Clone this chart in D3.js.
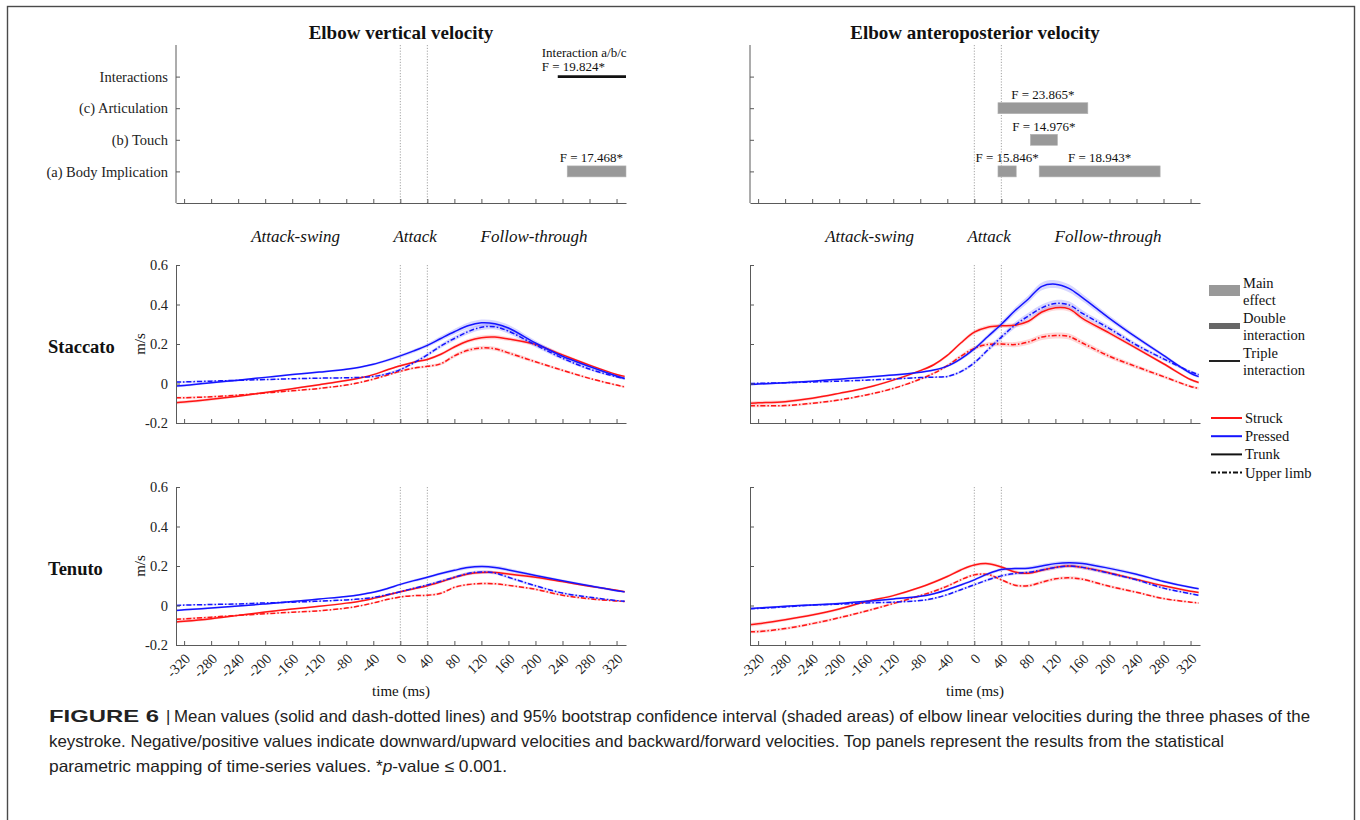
<!DOCTYPE html>
<html>
<head>
<meta charset="utf-8">
<script src="https://cdn.jsdelivr.net/npm/d3@7"></script>
<style>
  body { margin: 0; background: #fff; }
  svg { display: block; }
</style>
</head>
<body>
<svg id="fig" width="1360" height="820"></svg>
<script>
// ---------- time base (ms, keystroke onset = 0) ----------
const timeMs = [-332,-320,-280,-240,-200,-160,-120,-80,-60,-40,-20,0,20,40,60,80,100,120,140,160,200,240,280,320,332];
const xTicks = [-320,-280,-240,-200,-160,-120,-80,-40,0,40,80,120,160,200,240,280,320];
const yTicks = [-0.2, 0, 0.2, 0.4, 0.6];
const phaseNames = ["Attack-swing", "Attack", "Follow-through"];
const phaseLabelAt = [-155, 22, 198];
const phaseBounds = [0, 40];

// ---------- elbow vertical velocity, staccato (m/s) ----------
const vsStruckTrunk  = [-0.097,-0.094,-0.080,-0.064,-0.046,-0.026,-0.006,0.015,0.028,0.045,0.068,0.090,0.108,0.122,0.148,0.185,0.215,0.232,0.235,0.225,0.198,0.145,0.093,0.046,0.036];
const vsStruckLimb   = [-0.072,-0.072,-0.067,-0.059,-0.048,-0.037,-0.025,-0.008,0.005,0.022,0.042,0.062,0.078,0.087,0.100,0.140,0.168,0.180,0.176,0.155,0.110,0.067,0.026,-0.008,-0.017];
const vsPressedTrunk = [-0.013,-0.010,0.004,0.017,0.031,0.045,0.058,0.072,0.082,0.097,0.117,0.140,0.165,0.193,0.228,0.262,0.292,0.307,0.302,0.281,0.205,0.138,0.086,0.038,0.025];
const vsPressedLimb  = [0.007,0.008,0.012,0.016,0.020,0.024,0.027,0.029,0.031,0.036,0.048,0.070,0.105,0.145,0.190,0.228,0.262,0.285,0.287,0.265,0.195,0.128,0.073,0.034,0.025];

// ---------- elbow vertical velocity, tenuto ----------
const vtStruckTrunk  = [-0.083,-0.080,-0.067,-0.050,-0.033,-0.018,-0.004,0.012,0.022,0.036,0.052,0.070,0.085,0.100,0.120,0.142,0.160,0.167,0.167,0.160,0.143,0.121,0.098,0.077,0.070];
const vtStruckLimb   = [-0.070,-0.068,-0.059,-0.050,-0.042,-0.034,-0.027,-0.013,-0.002,0.013,0.030,0.043,0.050,0.052,0.062,0.092,0.106,0.111,0.110,0.102,0.082,0.052,0.034,0.023,0.020];
const vtPressedTrunk = [-0.025,-0.022,-0.013,-0.003,0.008,0.020,0.033,0.046,0.055,0.067,0.085,0.107,0.126,0.143,0.162,0.178,0.192,0.197,0.193,0.180,0.152,0.125,0.100,0.075,0.069];
const vtPressedLimb  = [0.000,0.002,0.005,0.008,0.013,0.017,0.022,0.028,0.033,0.041,0.054,0.070,0.087,0.104,0.123,0.143,0.162,0.170,0.165,0.143,0.100,0.063,0.042,0.025,0.021];

// ---------- elbow anteroposterior velocity, staccato ----------
const asStruckTrunk  = [-0.100,-0.098,-0.092,-0.075,-0.050,-0.022,0.017,0.065,0.095,0.142,0.205,0.260,0.285,0.292,0.295,0.315,0.362,0.383,0.378,0.330,0.255,0.178,0.100,0.020,0.005];
const asStruckLimb   = [-0.113,-0.113,-0.112,-0.100,-0.083,-0.058,-0.025,0.022,0.052,0.090,0.138,0.178,0.198,0.200,0.197,0.210,0.235,0.243,0.238,0.205,0.138,0.085,0.035,-0.015,-0.025];
const asPressedTrunk = [-0.005,-0.003,0.004,0.012,0.022,0.032,0.043,0.057,0.068,0.088,0.125,0.175,0.238,0.300,0.368,0.428,0.492,0.503,0.482,0.435,0.330,0.233,0.142,0.052,0.035];
const asPressedLimb  = [0.000,0.001,0.004,0.008,0.012,0.017,0.023,0.030,0.032,0.036,0.060,0.105,0.170,0.235,0.295,0.342,0.383,0.405,0.398,0.355,0.278,0.195,0.125,0.060,0.045];

// ---------- elbow anteroposterior velocity, tenuto ----------
const atStruckTrunk  = [-0.098,-0.093,-0.072,-0.048,-0.018,0.020,0.050,0.092,0.118,0.147,0.180,0.205,0.212,0.195,0.170,0.163,0.178,0.193,0.200,0.193,0.165,0.132,0.100,0.072,0.066];
const atStruckLimb   = [-0.133,-0.132,-0.117,-0.092,-0.062,-0.028,0.010,0.050,0.072,0.098,0.130,0.155,0.157,0.130,0.103,0.100,0.118,0.135,0.140,0.133,0.097,0.067,0.035,0.017,0.013];
const atPressedTrunk = [-0.015,-0.013,-0.004,0.003,0.010,0.021,0.033,0.047,0.060,0.080,0.104,0.130,0.160,0.182,0.187,0.189,0.200,0.212,0.217,0.213,0.188,0.158,0.122,0.092,0.085];
const atPressedLimb  = [-0.017,-0.015,-0.007,0.002,0.007,0.013,0.017,0.025,0.036,0.055,0.080,0.105,0.130,0.150,0.162,0.168,0.180,0.193,0.200,0.193,0.163,0.130,0.088,0.060,0.052];

// ---------- 95% bootstrap CI half-widths (m/s) ----------
const vsStruckTrunkCI  = [.008,.008,.007,.006,.005,.005,.005,.005,.005,.005,.005,.006,.006,.007,.008,.009,.010,.011,.011,.010,.009,.008,.006,.005,.005];
const vsStruckLimbCI   = [.006,.006,.005,.005,.004,.004,.004,.004,.004,.005,.005,.006,.006,.007,.008,.009,.010,.010,.010,.009,.008,.007,.006,.005,.005];
const vsPressedTrunkCI = [.006,.006,.005,.005,.005,.005,.005,.005,.005,.006,.007,.008,.009,.010,.012,.014,.016,.017,.017,.016,.013,.010,.008,.007,.007];
const vsPressedLimbCI  = [.005,.005,.004,.004,.004,.004,.004,.004,.004,.005,.006,.007,.008,.009,.010,.012,.013,.014,.014,.013,.011,.009,.007,.006,.006];
const vtStruckTrunkCI  = [.007,.007,.006,.005,.005,.004,.004,.004,.004,.004,.005,.005,.006,.006,.007,.007,.008,.008,.008,.008,.007,.006,.005,.005,.005];
const vtStruckLimbCI   = [.006,.006,.005,.005,.004,.004,.004,.004,.004,.004,.004,.005,.005,.005,.006,.006,.006,.006,.006,.006,.006,.005,.005,.004,.004];
const vtPressedTrunkCI = [.005,.005,.005,.004,.004,.004,.004,.004,.005,.005,.006,.006,.007,.007,.008,.008,.009,.009,.009,.009,.008,.007,.006,.006,.006];
const vtPressedLimbCI  = [.004,.004,.004,.004,.004,.004,.004,.004,.004,.004,.005,.005,.006,.006,.007,.007,.008,.008,.008,.007,.006,.005,.005,.004,.004];
const asStruckTrunkCI  = [.009,.009,.008,.007,.006,.006,.006,.006,.007,.008,.009,.010,.010,.010,.011,.012,.013,.014,.014,.013,.011,.009,.008,.007,.007];
const asStruckLimbCI   = [.007,.007,.006,.006,.005,.005,.005,.006,.007,.008,.009,.010,.011,.012,.013,.014,.015,.015,.015,.014,.012,.010,.008,.007,.007];
const asPressedTrunkCI = [.005,.005,.005,.005,.005,.005,.005,.005,.005,.006,.008,.010,.012,.014,.016,.018,.020,.020,.020,.018,.014,.011,.009,.008,.008];
const asPressedLimbCI  = [.004,.004,.004,.004,.004,.004,.004,.004,.004,.005,.007,.009,.011,.013,.015,.016,.017,.018,.018,.016,.013,.010,.008,.007,.007];
const atStruckTrunkCI  = [.009,.009,.008,.007,.007,.006,.006,.006,.007,.007,.008,.008,.008,.008,.008,.008,.009,.009,.009,.009,.008,.007,.006,.006,.006];
const atStruckLimbCI   = [.008,.008,.007,.007,.006,.006,.006,.006,.006,.007,.007,.007,.007,.007,.007,.007,.008,.008,.008,.008,.007,.006,.006,.005,.005];
const atPressedTrunkCI = [.005,.005,.005,.005,.005,.005,.005,.005,.005,.006,.006,.007,.007,.008,.008,.009,.010,.010,.010,.010,.009,.008,.007,.006,.006];
const atPressedLimbCI  = [.004,.004,.004,.004,.004,.004,.004,.004,.005,.005,.006,.006,.007,.007,.007,.008,.008,.009,.009,.009,.008,.007,.006,.005,.005];

// ---------- SPM results ----------
const spmFactors = ["(a) Body Implication", "(b) Touch", "(c) Articulation", "Interactions"];
const vertMainEffects = [
  { factor: "(a) Body Implication", start: 247, end: 334, F: "17.468" }
];
const vertInteractions = [
  { factor: "Interactions", start: 233, end: 334, F: "19.824", name: "Interaction a/b/c" }
];
const apMainEffects = [
  { factor: "(c) Articulation", start: 35, end: 168, F: "23.865" },
  { factor: "(b) Touch", start: 83, end: 123, F: "14.976" },
  { factor: "(a) Body Implication", start: 35, end: 62, F: "15.846" },
  { factor: "(a) Body Implication", start: 96, end: 275, F: "18.943" }
];

const legendEffects = ["Main|effect", "Double|interaction", "Triple|interaction"];
const legendSeries = ["Struck", "Pressed", "Trunk", "Upper limb"];

const captionLines = [
  "Mean values (solid and dash-dotted lines) and 95% bootstrap confidence interval (shaded areas) of elbow linear velocities during the three phases of the",
  "keystroke. Negative/positive values indicate downward/upward velocities and backward/forward velocities. Top panels represent the results from the statistical"
];

// ---------- drawing ----------
const SERIF = "'Liberation Serif','Times New Roman',Times,serif";
const SANS = "'Liberation Sans',Arial,Helvetica,sans-serif";
const RED = "#ff1414", BLUE = "#1414ff";
const AXIS = "#5a5a5a";
const DASHDOT = "5,2,1.5,2";

const svg = d3.select("#fig");

// outer frame
svg.append("rect").attr("x", 7.5).attr("y", 6.5).attr("width", 1347).attr("height", 900)
  .attr("fill", "none").attr("stroke", "#4a4a4a").attr("stroke-width", 1.4);

const colLeft = [176, 750];
const panelW = 450;
const xDomain = [-332, 334];
const spmBox = { top: 45, bottom: 203 };
const rowBoxes = [{ top: 265, bottom: 423, name: "Staccato" }, { top: 487, bottom: 645, name: "Tenuto" }];
const titles = ["Elbow vertical velocity", "Elbow anteroposterior velocity"];

const panelSeries = [
  [
    { st: vsStruckTrunk, sl: vsStruckLimb, pt: vsPressedTrunk, pl: vsPressedLimb,
      stc: vsStruckTrunkCI, slc: vsStruckLimbCI, ptc: vsPressedTrunkCI, plc: vsPressedLimbCI },
    { st: vtStruckTrunk, sl: vtStruckLimb, pt: vtPressedTrunk, pl: vtPressedLimb,
      stc: vtStruckTrunkCI, slc: vtStruckLimbCI, ptc: vtPressedTrunkCI, plc: vtPressedLimbCI }
  ],
  [
    { st: asStruckTrunk, sl: asStruckLimb, pt: asPressedTrunk, pl: asPressedLimb,
      stc: asStruckTrunkCI, slc: asStruckLimbCI, ptc: asPressedTrunkCI, plc: asPressedLimbCI },
    { st: atStruckTrunk, sl: atStruckLimb, pt: atPressedTrunk, pl: atPressedLimb,
      stc: atStruckTrunkCI, slc: atStruckLimbCI, ptc: atPressedTrunkCI, plc: atPressedLimbCI }
  ]
];

function styleAxis(g) {
  g.select(".domain").attr("stroke", AXIS).attr("stroke-width", 1);
  g.selectAll(".tick line").attr("stroke", AXIS).attr("stroke-width", 1);
  g.selectAll(".tick text").attr("fill", "#222").style("font-family", SERIF).style("font-size", "14.5px");
}

function dottedMarkers(g, x, top, bottom) {
  phaseBounds.forEach(t => {
    g.append("line").attr("x1", x(t)).attr("x2", x(t)).attr("y1", top).attr("y2", bottom)
      .attr("stroke", "#9a9a9a").attr("stroke-width", 0.9).attr("stroke-dasharray", "1.2,1.6");
  });
}

for (let c = 0; c < 2; c++) {
  const x = d3.scaleLinear().domain(xDomain).range([colLeft[c], colLeft[c] + panelW]);
  const g = svg.append("g");

  // column title
  g.append("text").attr("x", colLeft[c] + panelW / 2).attr("y", 39).attr("text-anchor", "middle")
    .style("font-family", SERIF).style("font-weight", "bold").style("font-size", "19px")
    .attr("fill", "#111").text(titles[c]);

  // ---- SPM panel ----
  const yCat = d3.scalePoint().domain(spmFactors).range([spmBox.bottom, spmBox.top]).padding(1);
  dottedMarkers(g, x, spmBox.top, spmBox.bottom);

  const xa = g.append("g").attr("transform", `translate(0,${spmBox.bottom})`)
    .call(d3.axisBottom(x).tickValues(xTicks).tickSizeInner(-4).tickSizeOuter(0).tickFormat(""));
  styleAxis(xa);
  const ya = g.append("g").attr("transform", `translate(${colLeft[c]},0)`)
    .call(d3.axisLeft(yCat).tickSizeInner(-4).tickSizeOuter(0).tickPadding(8)
      .tickFormat(c === 0 ? (d => d) : ""));
  styleAxis(ya);
  ya.select(".domain").attr("d", `M0,${spmBox.top}V${spmBox.bottom}`);

  const mains = c === 0 ? vertMainEffects : apMainEffects;
  const barH = 11;
  mains.forEach(m => {
    const yc = yCat(m.factor);
    g.append("rect").attr("x", x(m.start)).attr("y", yc - barH / 2)
      .attr("width", x(m.end) - x(m.start)).attr("height", barH)
      .attr("fill", "#999").attr("stroke", "#b4b4b4").attr("stroke-width", 0.6);
    const atEnd = m.end >= xDomain[1];
    g.append("text")
      .attr("x", atEnd ? x(m.end) - 3 : (x(m.start) + x(m.end)) / 2)
      .attr("y", yc - 9).attr("text-anchor", atEnd ? "end" : "middle")
      .style("font-family", SERIF).style("font-size", "13px").attr("fill", "#111")
      .text(`F = ${m.F}*`);
  });

  if (c === 0) {
    vertInteractions.forEach(it => {
      const yc = yCat(it.factor);
      g.append("line").attr("x1", x(it.start)).attr("x2", x(it.end)).attr("y1", yc).attr("y2", yc)
        .attr("stroke", "#111").attr("stroke-width", 2.6);
      g.append("text").attr("x", x(it.start) - 16).attr("y", yc - 19.5)
        .style("font-family", SERIF).style("font-size", "13px").attr("fill", "#111").text(it.name);
      g.append("text").attr("x", x(it.start) - 16).attr("y", yc - 6)
        .style("font-family", SERIF).style("font-size", "13px").attr("fill", "#111").text(`F = ${it.F}*`);
    });
  }

  // phase labels
  phaseNames.forEach((p, i) => {
    g.append("text").attr("x", x(phaseLabelAt[i])).attr("y", 242).attr("text-anchor", "middle")
      .style("font-family", SERIF).style("font-style", "italic").style("font-size", "17px")
      .attr("fill", "#111").text(p);
  });

  // ---- velocity panels ----
  rowBoxes.forEach((box, r) => {
    const y = d3.scaleLinear().domain([-0.2, 0.6]).range([box.bottom, box.top]);
    const pg = g.append("g");
    dottedMarkers(pg, x, box.top, box.bottom);

    const s = panelSeries[c][r];
    const series = [
      { v: s.st, ci: s.stc, color: RED, dash: null },
      { v: s.sl, ci: s.slc, color: RED, dash: DASHDOT },
      { v: s.pt, ci: s.ptc, color: BLUE, dash: null },
      { v: s.pl, ci: s.plc, color: BLUE, dash: DASHDOT }
    ];
    const curve = d3.curveCatmullRom.alpha(0.5);
    const band = d3.area().curve(curve)
      .x((d, i) => x(timeMs[i]))
      .y0(d => y(d[0] - d[1])).y1(d => y(d[0] + d[1]));
    const line = d3.line().curve(curve)
      .x((d, i) => x(timeMs[i])).y(d => y(d));

    series.forEach(sr => {
      pg.append("path").datum(sr.v.map((v, i) => [v, sr.ci[i]]))
        .attr("d", band).attr("fill", sr.color).attr("fill-opacity", 0.17)
        .style("filter", "blur(0.6px)");
    });
    series.forEach(sr => {
      pg.append("path").datum(sr.v).attr("d", line).attr("fill", "none")
        .attr("stroke", sr.color).attr("stroke-width", 1.5)
        .attr("stroke-dasharray", sr.dash);
    });

    const xa2 = pg.append("g").attr("transform", `translate(0,${box.bottom})`)
      .call(d3.axisBottom(x).tickValues(xTicks).tickSizeInner(-4).tickSizeOuter(0)
        .tickFormat(r === 1 ? (d => String(d)) : ""));
    styleAxis(xa2);
    if (r === 1) {
      xa2.selectAll(".tick text")
        .attr("x", 0).attr("y", 0).attr("dy", "0.35em")
        .attr("transform", "translate(3,11) rotate(-45)")
        .style("text-anchor", "end");
    }
    const ya2 = pg.append("g").attr("transform", `translate(${colLeft[c]},0)`)
      .call(d3.axisLeft(y).tickValues(yTicks).tickSizeInner(-4).tickSizeOuter(0).tickPadding(8)
        .tickFormat(c === 0 ? (d => d === 0 ? "0" : d.toFixed(1)) : ""));
    styleAxis(ya2);

    if (c === 0) {
      pg.append("text").attr("transform", `translate(140,${(box.top + box.bottom) / 2}) rotate(-90)`)
        .attr("text-anchor", "middle").attr("dy", "0.35em")
        .style("font-family", SERIF).style("font-size", "15px").attr("fill", "#111").text("m/s");
      pg.append("text").attr("x", 48).attr("y", (box.top + box.bottom) / 2 + 3).attr("dy", "0.35em")
        .style("font-family", SERIF).style("font-weight", "bold").style("font-size", "18.5px")
        .attr("fill", "#111").text(box.name);
    }
  });

  g.append("text").attr("x", colLeft[c] + panelW / 2).attr("y", 696).attr("text-anchor", "middle")
    .style("font-family", SERIF).style("font-size", "15px").attr("fill", "#111").text("time (ms)");
}

// ---------- legend ----------
const lg = svg.append("g").style("font-family", SERIF).style("font-size", "14.5px").attr("fill", "#111");
const effTop = [283, 318, 353];
legendEffects.forEach((lbl, i) => {
  const parts = lbl.split("|");
  const yMid = effTop[i] + 8;
  if (i === 0) lg.append("rect").attr("x", 1209).attr("y", yMid - 6).attr("width", 31).attr("height", 11).attr("fill", "#999");
  if (i === 1) lg.append("rect").attr("x", 1209).attr("y", yMid - 3).attr("width", 31).attr("height", 6).attr("fill", "#676767");
  if (i === 2) lg.append("line").attr("x1", 1209).attr("x2", 1240).attr("y1", yMid).attr("y2", yMid).attr("stroke", "#222").attr("stroke-width", 2);
  parts.forEach((p, k) => {
    lg.append("text").attr("x", 1243).attr("y", effTop[i] + k * 16.5).attr("dy", "0.35em").text(p);
  });
});
const serTop = 418;
legendSeries.forEach((lbl, i) => {
  const yy = serTop + i * 18.2;
  lg.append("line").attr("x1", 1211).attr("x2", 1242).attr("y1", yy).attr("y2", yy)
    .attr("stroke", i === 0 ? RED : i === 1 ? BLUE : "#111").attr("stroke-width", 2)
    .attr("stroke-dasharray", i === 3 ? "5,2,2,2" : null);
  lg.append("text").attr("x", 1245).attr("y", yy).attr("dy", "0.35em").text(lbl);
});

// ---------- caption ----------
const cap = svg.append("g").style("font-family", SANS).style("font-size", "16.5px").attr("fill", "#222");
cap.append("text").attr("x", 49).attr("y", 722).style("font-weight", "bold")
  .attr("textLength", 110).attr("lengthAdjust", "spacingAndGlyphs").text("FIGURE 6");
cap.append("text").attr("x", 166).attr("y", 722).text("|");
cap.append("text").attr("x", 174).attr("y", 722)
  .attr("textLength", 1136).attr("lengthAdjust", "spacingAndGlyphs").text(captionLines[0]);
cap.append("text").attr("x", 49).attr("y", 747)
  .attr("textLength", 1175).attr("lengthAdjust", "spacingAndGlyphs").text(captionLines[1]);
const l3 = cap.append("text").attr("x", 49).attr("y", 772)
  .attr("textLength", 458).attr("lengthAdjust", "spacingAndGlyphs");
l3.append("tspan").text("parametric mapping of time-series values. *");
l3.append("tspan").style("font-style", "italic").text("p");
l3.append("tspan").text("-value ≤ 0.001.");
</script>
</body>
</html>
